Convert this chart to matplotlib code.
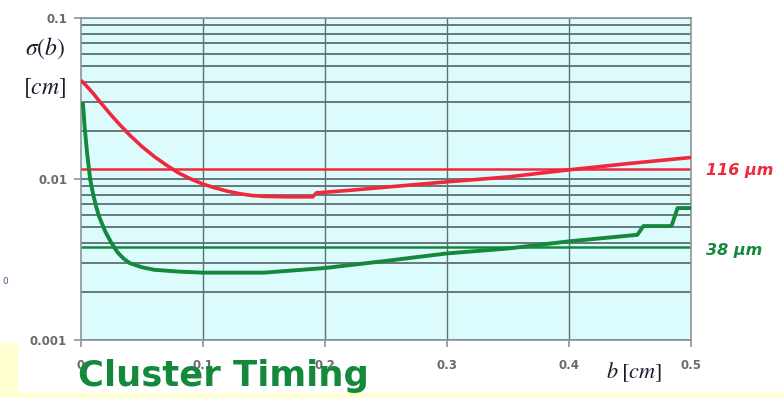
import numpy as np
import matplotlib
matplotlib.use("Agg")
import matplotlib.pyplot as plt
from matplotlib.patches import Rectangle

plt.rcParams["mathtext.fontset"] = "stix"

# Resolution sigma(b) versus impact parameter b
b_red = [0.0, 0.005, 0.01, 0.015, 0.02, 0.025, 0.03, 0.035, 0.04, 0.05, 0.06,
         0.07, 0.08, 0.09, 0.10, 0.11, 0.12, 0.13, 0.14, 0.15, 0.17, 0.19,
         0.193, 0.22, 0.25, 0.30, 0.35, 0.40, 0.45, 0.50]
sigma_red = [0.041, 0.0375, 0.034, 0.0305, 0.0275, 0.0248, 0.0225, 0.0205,
             0.0187, 0.0159, 0.0138, 0.0122, 0.0109, 0.0100, 0.0093, 0.0088,
             0.0084, 0.0081, 0.0079, 0.0078, 0.00775, 0.00775, 0.0082,
             0.0085, 0.0089, 0.0096, 0.0103, 0.0114, 0.0125, 0.0136]

b_green = [0.0015, 0.003, 0.005, 0.0075, 0.01, 0.0125, 0.015, 0.02, 0.025,
           0.03, 0.035, 0.04, 0.05, 0.06, 0.08, 0.10, 0.15, 0.20, 0.25, 0.30,
           0.35, 0.40, 0.456, 0.461, 0.484, 0.489, 0.50]
sigma_green = [0.030, 0.021, 0.0145, 0.0100, 0.0080, 0.0067, 0.0058, 0.0047,
               0.0040, 0.0035, 0.0032, 0.0030, 0.00283, 0.00273, 0.00266,
               0.00262, 0.00262, 0.0028, 0.0031, 0.00345, 0.0037, 0.0041,
               0.0045, 0.0051, 0.0051, 0.0066, 0.0066]

ref_red = 0.0116    # 116 um
ref_green = 0.0038  # 38 um

x_ticks = [0, 0.1, 0.2, 0.3, 0.4, 0.5]
x_tick_labels = ["0", "0.1", "0.2", "0.3", "0.4", "0.5"]
y_ticks = [0.001, 0.01, 0.1]
y_tick_labels = ["0.001", "0.01", "0.1"]

RED = "#f0283a"
GREEN = "#14893c"
GRID = "#5d6f70"
TICKTXT = "#6a6a6a"

W, H = 784, 398
fig = plt.figure(figsize=(W / 100, H / 100), dpi=100)
fig.patch.set_facecolor("white")

# pale yellow slide background peeking out at the bottom
yellow = "#ffffd2"
fig.patches.append(Rectangle((0, 0), 18 / W, 55 / H, transform=fig.transFigure,
                             facecolor=yellow, edgecolor="none", zorder=0))
fig.patches.append(Rectangle((0, 0), 1, 5 / H, transform=fig.transFigure,
                             facecolor=yellow, edgecolor="none", zorder=0))

ax = fig.add_axes([81 / W, 1 - 340 / H, 610 / W, 322 / H])
ax.set_facecolor("#dcfbfc")
ax.set_yscale("log")
ax.set_xlim(0, 0.5)
ax.set_ylim(0.001, 0.1)

# grid: decades plus 2..9 subdivisions, vertical at every 0.1
for dec in [0.001, 0.01]:
    for m in range(1, 10):
        ax.axhline(dec * m, color=GRID, lw=1.3, zorder=1)
ax.axhline(0.1, color=GRID, lw=1.3, zorder=1)
for xv in x_ticks[1:-1]:
    ax.axvline(xv, color=GRID, lw=1.0, zorder=1)

ax.axhline(ref_red, color=RED, lw=1.8, zorder=2)
ax.axhline(ref_green, color=GREEN, lw=1.8, zorder=2)

ax.plot(b_red, sigma_red, color=RED, lw=2.6, zorder=3, solid_capstyle="butt")
ax.plot(b_green, sigma_green, color=GREEN, lw=2.8, zorder=3,
        solid_capstyle="butt")

for s in ax.spines.values():
    s.set_color("#8c9596")
    s.set_linewidth(1.2)

ax.set_xticks(x_ticks)
ax.set_xticklabels(x_tick_labels)
ax.set_yticks(y_ticks)
ax.set_yticklabels(y_tick_labels)
ax.yaxis.set_minor_locator(matplotlib.ticker.NullLocator())
ax.tick_params(axis="both", colors="#8c9596", length=5, width=1.2,
               labelcolor=TICKTXT, labelsize=8.5)
ax.tick_params(axis="x", pad=9)
ax.tick_params(axis="y", pad=5)
for lab in ax.get_xticklabels() + ax.get_yticklabels():
    lab.set_fontweight("bold")

# axis titles
fig.text(45 / W, 1 - 48 / H, r"$\sigma(b)$", fontsize=17, ha="center",
         va="center", color="#1a1a2a")
fig.text(45 / W, 1 - 88 / H, r"$[cm]$", fontsize=17, ha="center",
         va="center", color="#1a1a2a")
fig.text(634 / W, 1 - 372 / H, r"$b\;[cm]$", fontsize=16, ha="center",
         va="center", color="#1a1a2a")

# reference value labels
fig.text(706 / W, 1 - 171 / H, "116 \u00b5m", fontsize=11.5, color=RED,
         fontweight="bold", fontstyle="italic", ha="left", va="center")
fig.text(706 / W, 1 - 250 / H, "38 \u00b5m", fontsize=11.5, color=GREEN,
         fontweight="bold", fontstyle="italic", ha="left", va="center")

fig.text(5 / W, 1 - 281 / H, "0", fontsize=6.5, color="#4a5a8a",
         ha="center", va="center")

fig.text(78 / W, 1 - 376 / H, "Cluster Timing", fontsize=25.5, color=GREEN,
         fontweight="bold", ha="left", va="center", zorder=10)

fig.savefig("out.png", dpi=100)
